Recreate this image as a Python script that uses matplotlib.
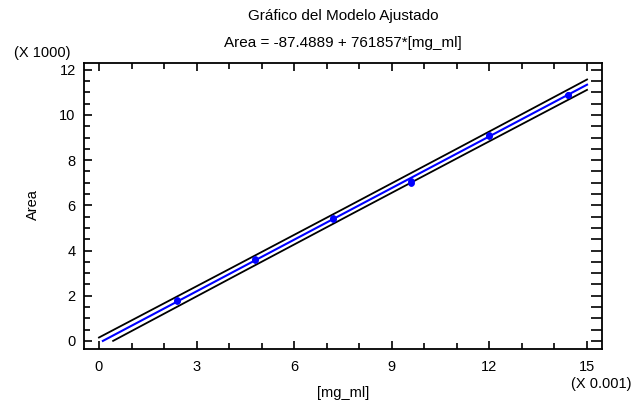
import numpy as np
import matplotlib
matplotlib.use("Agg")
import matplotlib.pyplot as plt
from matplotlib.ticker import FuncFormatter, MultipleLocator

plt.rcParams['font.family'] = ['Liberation Sans', 'DejaVu Sans']

# Calibration data: concentration (mg/ml) and measured peak area
mg_ml = [0.0024, 0.0024, 0.0048, 0.0048, 0.0072, 0.0072,
         0.0096, 0.0096, 0.0120, 0.0120, 0.0144, 0.0144]
area = [1781, 1801, 3600, 3640, 5418, 5448,
        7007, 7097, 9075, 9105, 10893, 10883]

# Fitted model reported in the subtitle
intercept = -87.4889
slope = 761857.0
t_crit = 2.228  # Student t, 95 %, 10 d.f.

x = np.array(mg_ml)
y = np.array(area)
n = len(x)
resid = y - (intercept + slope * x)
s = np.sqrt(np.sum(resid ** 2) / (n - 2))
xbar = x.mean()
sxx = np.sum((x - xbar) ** 2)

xs = np.linspace(0, 0.015, 2001)
fit = intercept + slope * xs
half = t_crit * s * np.sqrt(1 + 1 / n + (xs - xbar) ** 2 / sxx)
upper = fit + half
lower = fit - half


def above_zero(v):
    v = v.copy()
    v[v < 0] = np.nan
    return v


W, H = 634, 404
fig = plt.figure(figsize=(W / 100, H / 100), dpi=100)
ax = fig.add_axes([84 / W, 1 - 349 / H, (602 - 84) / W, (349 - 63) / H])

ax.plot(xs, above_zero(upper), color='black', lw=1.3)
ax.plot(xs, above_zero(lower), color='black', lw=1.3)
ax.plot(xs, above_zero(fit), color='#0000ff', lw=1.5)
ax.plot(x, y, 'o', color='#0000ff', markersize=4.2, markeredgewidth=0.6)

ax.set_xlim(-0.00046, 0.01546)
ax.set_ylim(-354, 12300)

ax.xaxis.set_major_locator(MultipleLocator(0.003))
ax.xaxis.set_minor_locator(MultipleLocator(0.001))
ax.yaxis.set_major_locator(MultipleLocator(2000))
ax.yaxis.set_minor_locator(MultipleLocator(500))
ax.xaxis.set_major_formatter(FuncFormatter(lambda v, p: f"{v * 1000:.0f}"))
ax.yaxis.set_major_formatter(FuncFormatter(lambda v, p: f"{v / 1000:.0f}"))

ax.tick_params(axis='both', which='both', direction='in', top=True, right=True,
               labelsize=10.5, width=1.2, colors='black')
ax.tick_params(axis='both', which='major', length=6)
ax.tick_params(axis='both', which='minor', length=4)
ax.tick_params(axis='y', which='both', right=True)
ax.tick_params(axis='x', which='major', pad=8)
ax.tick_params(axis='y', which='major', pad=6)
# longer ticks on the right-hand frame
for t in ax.yaxis.get_major_ticks() + ax.yaxis.get_minor_ticks():
    t.tick2line.set_markersize(8)

for sp in ax.spines.values():
    sp.set_linewidth(1.3)

fig.text(343 / W, 1 - 393 / H, '[mg_ml]', ha='center', va='center', fontsize=10.5)
fig.text(33 / W, 1 - 205 / H, 'Area', ha='center', va='center', rotation=90, fontsize=10.5)

fig.text(343 / W, 1 - 16 / H, 'Gráfico del Modelo Ajustado', ha='center', va='center', fontsize=11)
fig.text(343 / W, 1 - 43 / H, 'Area = -87.4889 + 761857*[mg_ml]', ha='center', va='center', fontsize=11)
fig.text(42 / W, 1 - 53 / H, '(X 1000)', ha='center', va='center', fontsize=10.5)
fig.text(601 / W, 1 - 384 / H, '(X 0.001)', ha='center', va='center', fontsize=10.5)

fig.savefig('out.png', dpi=100)
